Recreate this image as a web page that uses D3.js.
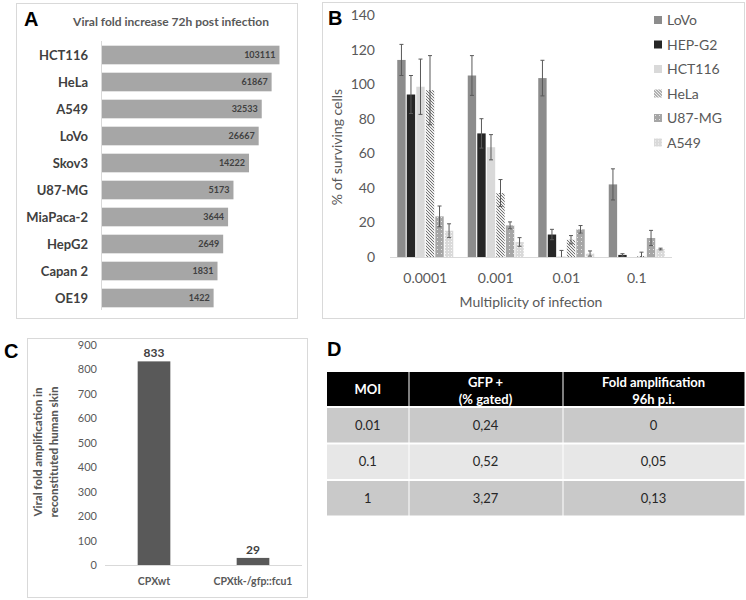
<!DOCTYPE html>
<html>
<head>
<meta charset="utf-8">
<script src="https://cdn.jsdelivr.net/npm/d3@7"></script>
<style>
  body { margin: 0; background: #fff; }
  text { font-family: Lato, "Open Sans", sans-serif; }
</style>
</head>
<body>
<svg width="746" height="600"></svg>
<script>
// ---- data ----
var cellLines = ["HCT116", "HeLa", "A549", "LoVo", "Skov3", "U87-MG", "MiaPaca-2", "HepG2", "Capan 2", "OE19"];
var foldIncrease = [103111, 61867, 32533, 26667, 14222, 5173, 3644, 2649, 1831, 1422];

var moiLabels = ["0.0001", "0.001", "0.01", "0.1"];
var seriesNames = ["LoVo", "HEP-G2", "HCT116", "HeLa", "U87-MG", "A549"];
var survLoVo   = [114, 105, 103.5, 42];
var survHepG2  = [94, 71.5, 13, 1.2];
var survHCT116 = [98.5, 63.5, 0.3, 0];
var survHeLa   = [96.5, 37, 10, 0.6];
var survU87    = [23.5, 18.3, 16, 11];
var survA549   = [15.2, 8.7, 2, 4.6];
var errLoVo   = [9, 11.5, 10.3, 9];
var errHepG2  = [11, 8.5, 3, 0.7];
var errHCT116 = [16, 7.3, 3.5, 0];
var errHeLa   = [20, 7.8, 2.4, 2.2];
var errU87    = [6, 2, 2.2, 4.4];
var errA549   = [4, 2.5, 1.5, 0.5];

var skinLabels = ["CPXwt", "CPXtk-/gfp::fcu1"];
var skinValues = [833, 29];

var tableHeader = [["MOI"], ["GFP +", "(% gated)"], ["Fold amplification", "96h p.i."]];
var tableRows = [["0.01", "0,24", "0"], ["0.1", "0,52", "0,05"], ["1", "3,27", "0,13"]];

var svg = d3.select("svg");

// patterns
var defs = svg.append("defs");
var hatch = defs.append("pattern").attr("id", "hatch").attr("patternUnits", "userSpaceOnUse")
  .attr("width", 3).attr("height", 3);
hatch.append("rect").attr("width", 3).attr("height", 3).attr("fill", "#ededed");
hatch.append("path").attr("d", "M-1,-1 L4,4 M-1,2 L1,4 M2,-1 L4,1").attr("stroke", "#737373").attr("stroke-width", 1);

var dots1 = defs.append("pattern").attr("id", "dotsDark").attr("patternUnits", "userSpaceOnUse")
  .attr("width", 4).attr("height", 4);
dots1.append("rect").attr("width", 4).attr("height", 4).attr("fill", "#a6a6a6");
dots1.append("rect").attr("x", 1).attr("y", 1).attr("width", 1).attr("height", 1).attr("fill", "#e6e6e6");

var dots2 = defs.append("pattern").attr("id", "dotsLight").attr("patternUnits", "userSpaceOnUse")
  .attr("width", 3).attr("height", 3);
dots2.append("rect").attr("width", 3).attr("height", 3).attr("fill", "#d9d9d9");
dots2.append("rect").attr("x", 1).attr("y", 1).attr("width", 1).attr("height", 1).attr("fill", "#f7f7f7");

// frames
function frame(x, y, w, h) {
  svg.append("rect").attr("x", x).attr("y", y).attr("width", w).attr("height", h)
    .attr("fill", "none").attr("stroke", "#d9d9d9");
}
frame(16.5, 3.5, 281, 315);
frame(322.5, 2.5, 422, 316);
frame(27.5, 338.5, 280, 259);

function panelLabel(t, x, y) {
  svg.append("text").attr("x", x).attr("y", y).text(t)
    .style("font-family", "Arial, 'Liberation Sans', sans-serif")
    .style("font-weight", "bold").style("font-size", "20px").attr("fill", "#000");
}

// ---- Panel A ----
panelLabel("A", 24, 26);
svg.append("text").attr("x", 171).attr("y", 26).attr("text-anchor", "middle")
  .style("font-size", "12px").style("font-weight", "bold").attr("fill", "#595959")
  .text("Viral fold increase 72h post infection");

var xA = d3.scaleLog().domain([1, 1e6]).range([102, 102 + 35.4 * 6]);
var yA = d3.scaleBand().domain(cellLines).range([41.5, 311.5]).paddingInner(0.31).paddingOuter(0.155);

var gA = svg.append("g");
gA.selectAll("rect.barA").data(cellLines).enter().append("rect")
  .attr("class", "barA")
  .attr("x", xA(1))
  .attr("y", function(d) { return yA(d); })
  .attr("width", function(d, i) { return xA(foldIncrease[i]) - xA(1); })
  .attr("height", yA.bandwidth())
  .attr("fill", "#a6a6a6");
gA.append("line").attr("x1", 101.5).attr("x2", 101.5).attr("y1", 41).attr("y2", 310)
  .attr("stroke", "#d9d9d9");
gA.selectAll("text.lab").data(cellLines).enter().append("text")
  .attr("class", "lab")
  .attr("x", 88).attr("y", function(d) { return yA(d) + yA.bandwidth() / 2; })
  .attr("dy", "0.35em").attr("text-anchor", "end")
  .style("font-size", "13px").style("font-weight", "bold").attr("fill", "#404040")
  .text(function(d) { return d; });
gA.selectAll("text.val").data(cellLines).enter().append("text")
  .attr("class", "val")
  .attr("x", function(d, i) { return xA(foldIncrease[i]) - 4; })
  .attr("y", function(d) { return yA(d) + yA.bandwidth() / 2; })
  .attr("dy", "0.35em").attr("text-anchor", "end")
  .style("font-size", "9px").style("font-weight", "bold").attr("fill", "#404040")
  .text(function(d, i) { return foldIncrease[i]; });

// ---- Panel B ----
panelLabel("B", 328, 25);
var survival = [survLoVo, survHepG2, survHCT116, survHeLa, survU87, survA549];
var errors = [errLoVo, errHepG2, errHCT116, errHeLa, errU87, errA549];
var fills = ["#8c8c8c", "#262626", "#d9d9d9", "url(#hatch)", "url(#dotsDark)", "url(#dotsLight)"];

var yB = d3.scaleLinear().domain([0, 140]).range([257, 15]);
var x0 = d3.scaleBand().domain(moiLabels).range([390, 672]);
var x1 = d3.scaleBand().domain(seriesNames).range([0, 56]).paddingInner(0.12);
var groupOffset = (x0.bandwidth() - 56) / 2;

var gB = svg.append("g");
var yAxisB = d3.axisLeft(yB).tickValues(d3.range(0, 141, 20)).tickSize(0).tickPadding(0);
gB.append("g").attr("transform", "translate(375,0)").call(yAxisB)
  .call(function(g) { g.select(".domain").remove(); })
  .selectAll("text").style("font-size", "14px").style("font-family", "Lato, sans-serif").attr("fill", "#595959");
gB.append("line").attr("x1", 390).attr("x2", 672).attr("y1", 257.5).attr("y2", 257.5)
  .attr("stroke", "#d9d9d9");

var bdata = [];
seriesNames.forEach(function(s, si) {
  moiLabels.forEach(function(m, mi) {
    bdata.push({ s: s, si: si, m: m, v: survival[si][mi], e: errors[si][mi] });
  });
});
var bx = function(d) { return x0(d.m) + groupOffset + x1(d.s); };
gB.selectAll("rect.barB").data(bdata).enter().append("rect")
  .attr("class", "barB")
  .attr("x", bx)
  .attr("y", function(d) { return yB(d.v); })
  .attr("width", x1.bandwidth())
  .attr("height", function(d) { return yB(0) - yB(d.v); })
  .attr("fill", function(d) { return fills[d.si]; });

var eb = gB.selectAll("g.err").data(bdata.filter(function(d) { return d.e > 0; })).enter().append("g")
  .attr("class", "err").attr("stroke", "#595959").attr("stroke-width", 1);
eb.append("line")
  .attr("x1", function(d) { return bx(d) + x1.bandwidth() / 2; })
  .attr("x2", function(d) { return bx(d) + x1.bandwidth() / 2; })
  .attr("y1", function(d) { return yB(d.v + d.e); })
  .attr("y2", function(d) { return Math.min(yB(Math.max(d.v - d.e, 0)), 257); });
eb.append("line")
  .attr("x1", function(d) { return bx(d) + x1.bandwidth() / 2 - 2; })
  .attr("x2", function(d) { return bx(d) + x1.bandwidth() / 2 + 2; })
  .attr("y1", function(d) { return yB(d.v + d.e); })
  .attr("y2", function(d) { return yB(d.v + d.e); });
eb.filter(function(d) { return d.v - d.e > 0; }).append("line")
  .attr("x1", function(d) { return bx(d) + x1.bandwidth() / 2 - 2; })
  .attr("x2", function(d) { return bx(d) + x1.bandwidth() / 2 + 2; })
  .attr("y1", function(d) { return yB(d.v - d.e); })
  .attr("y2", function(d) { return yB(d.v - d.e); });

gB.selectAll("text.cat").data(moiLabels).enter().append("text")
  .attr("class", "cat")
  .attr("x", function(d) { return x0(d) + x0.bandwidth() / 2; })
  .attr("y", 283).attr("text-anchor", "middle")
  .style("font-size", "14px").attr("fill", "#595959")
  .text(function(d) { return d; });
gB.append("text").attr("x", 531).attr("y", 307).attr("text-anchor", "middle")
  .style("font-size", "14px").attr("fill", "#595959").text("Multiplicity of infection");
gB.append("text").attr("transform", "translate(342,147) rotate(-90)").attr("text-anchor", "middle")
  .style("font-size", "14px").attr("fill", "#595959").text("% of surviving cells");

var leg = gB.selectAll("g.leg").data(seriesNames).enter().append("g")
  .attr("class", "leg")
  .attr("transform", function(d, i) { return "translate(654," + (20 + i * 24.5) + ")"; });
leg.append("rect").attr("x", 0).attr("y", -4).attr("width", 8).attr("height", 8)
  .attr("fill", function(d, i) { return fills[i]; });
leg.append("text").attr("x", 13).attr("y", 0).attr("dy", "0.36em")
  .style("font-size", "14px").attr("fill", "#595959").text(function(d) { return d; });

// ---- Panel C ----
panelLabel("C", 4, 358);
var yC = d3.scaleLinear().domain([0, 900]).range([565, 345]);
var xC = d3.scaleBand().domain(skinLabels).range([105, 302]).paddingInner(0.67).paddingOuter(0.33);
var gC = svg.append("g");
gC.append("g").attr("transform", "translate(97,0)")
  .call(d3.axisLeft(yC).tickValues(d3.range(0, 901, 100)).tickSize(0).tickPadding(0))
  .call(function(g) { g.select(".domain").remove(); })
  .selectAll("text").style("font-size", "11px").style("font-family", "Lato, sans-serif").attr("fill", "#595959");
gC.append("line").attr("x1", 105).attr("x2", 302).attr("y1", 565.5).attr("y2", 565.5).attr("stroke", "#d9d9d9");
gC.selectAll("rect.barC").data(skinLabels).enter().append("rect")
  .attr("class", "barC")
  .attr("x", function(d) { return xC(d); })
  .attr("y", function(d, i) { return yC(skinValues[i]); })
  .attr("width", xC.bandwidth())
  .attr("height", function(d, i) { return yC(0) - yC(skinValues[i]); })
  .attr("fill", "#595959");
gC.selectAll("text.cv").data(skinLabels).enter().append("text")
  .attr("class", "cv")
  .attr("x", function(d) { return xC(d) + xC.bandwidth() / 2; })
  .attr("y", function(d, i) { return yC(skinValues[i]) - 4; })
  .attr("text-anchor", "middle").style("font-size", "12px").style("font-weight", "bold").attr("fill", "#404040")
  .text(function(d, i) { return skinValues[i]; });
gC.selectAll("text.cl").data(skinLabels).enter().append("text")
  .attr("class", "cl")
  .attr("x", function(d) { return xC(d) + xC.bandwidth() / 2; })
  .attr("y", 585).attr("text-anchor", "middle")
  .style("font-size", "10.5px").style("font-weight", "bold").attr("fill", "#595959")
  .text(function(d) { return d; });
var ctitle = gC.append("text").attr("transform", "translate(46,452) rotate(-90)").attr("text-anchor", "middle")
  .style("font-size", "11.5px").style("font-weight", "900").attr("fill", "#595959");
ctitle.append("tspan").attr("x", 0).attr("y", -4).text("Viral fold amplification in");
ctitle.append("tspan").attr("x", 0).attr("y", 12).text("reconstituted human skin");

// ---- Panel D ----
panelLabel("D", 327, 356);
var colEdges = [327, 408.5, 562.5, 744.5];
var gD = svg.append("g");
var hdr = gD.selectAll("g.hdr").data(tableHeader).enter().append("g").attr("class", "hdr");
hdr.append("rect")
  .attr("x", function(d, i) { return colEdges[i] + (i > 0 ? 1 : 0); })
  .attr("y", 372).attr("height", 34)
  .attr("width", function(d, i) { return colEdges[i + 1] - colEdges[i] - (i > 0 ? 1 : 0); })
  .attr("fill", "#000");
hdr.each(function(lines, i) {
  var cx = (colEdges[i] + colEdges[i + 1]) / 2;
  var g = d3.select(this);
  lines.forEach(function(t, li) {
    g.append("text").attr("x", cx)
      .attr("y", lines.length === 1 ? 389 : 382 + li * 17)
      .attr("dy", "0.35em").attr("text-anchor", "middle")
      .style("font-size", "13px").style("font-weight", "bold").attr("fill", "#fff").text(t);
  });
});
var rowFills = ["#c9c9c9", "#e7e7e7", "#c9c9c9"];
tableRows.forEach(function(row, ri) {
  var y0 = 408 + ri * 36.5;
  row.forEach(function(cell, ci) {
    gD.append("rect")
      .attr("x", colEdges[ci] + (ci > 0 ? 1 : 0)).attr("y", y0)
      .attr("width", colEdges[ci + 1] - colEdges[ci] - (ci > 0 ? 1 : 0)).attr("height", 34.5)
      .attr("fill", rowFills[ri]);
    gD.append("text").attr("x", (colEdges[ci] + colEdges[ci + 1]) / 2).attr("y", y0 + 17)
      .attr("dy", "0.35em").attr("text-anchor", "middle")
      .style("font-size", "13px").attr("fill", "#262626").text(cell);
  });
});
</script>
</body>
</html>
